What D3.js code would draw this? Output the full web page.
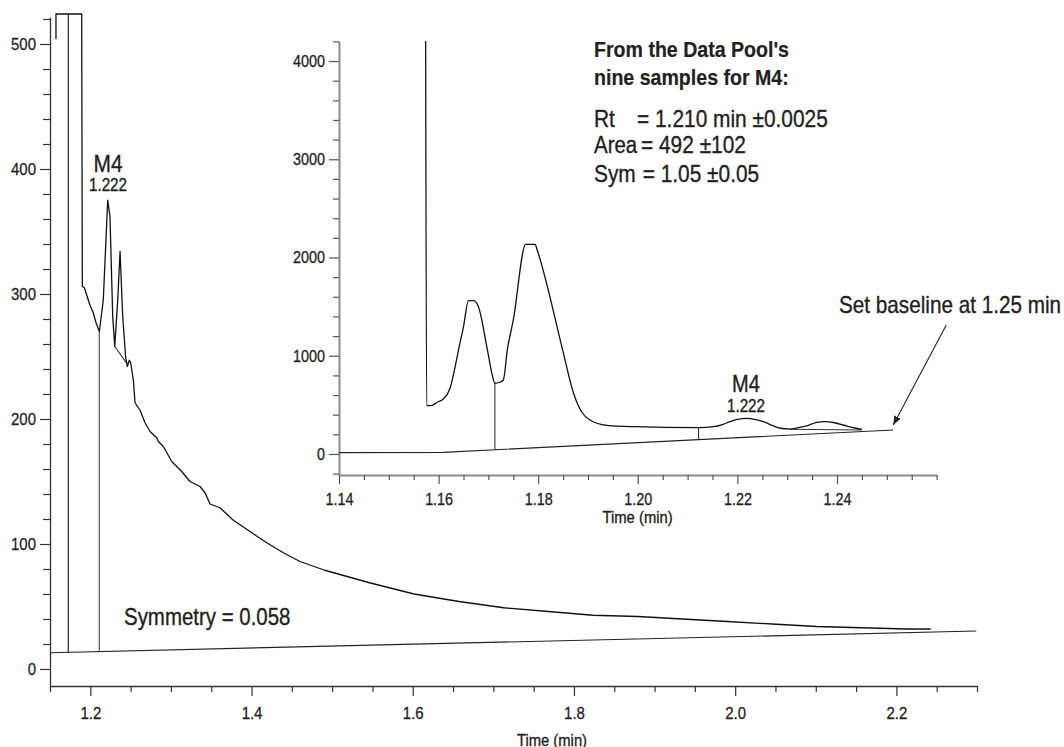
<!DOCTYPE html>
<html><head><meta charset="utf-8">
<script src="https://cdn.jsdelivr.net/npm/d3@7"></script>
<style>
html,body{margin:0;padding:0;background:#fff;}
svg{display:block;}
text{font-family:"Liberation Sans", Arial, sans-serif; fill:#231f20;}
</style></head><body>
<svg id="c" width="1064" height="747"></svg>
<script>
// ---------- DATA ----------
// Main chromatogram (time in min, signal)
const mainTime = [1.1574, 1.1574, 1.1893, 1.1901, 1.1926, 1.1996, 1.2037, 1.2071, 1.2112, 1.2161, 1.2216, 1.2244, 1.2278, 1.2303, 1.2340, 1.2369, 1.2402, 1.2439, 1.2459, 1.2484, 1.2501, 1.2534, 1.2555, 1.2617, 1.2679, 1.2741, 1.2824, 1.2844, 1.2906, 1.3010, 1.3134, 1.3237, 1.3361, 1.3423, 1.3485, 1.3609, 1.3774, 1.3981, 1.4189, 1.4395, 1.4602, 1.4908, 1.5463, 1.6016, 1.6574, 1.7128, 1.7682, 1.8237, 1.8793, 1.9347, 1.9900, 2.0458, 2.1012, 2.1567, 2.2120, 2.2427];
const mainSignal = [504, 524, 524, 306, 305, 291, 285, 277, 270, 295, 375, 362, 282, 258, 295, 334, 282, 249, 242, 247, 245, 231, 213, 207, 197, 190, 185, 182, 178, 166, 158, 150, 146, 141, 132, 129, 119, 110, 101, 93, 86, 79, 69, 60, 54, 49, 46, 43, 42, 40, 38, 36, 34, 33, 32, 32];
const mainBaseTime = [1.15, 2.299];
const mainBaseSignal = [13, 30.4];
const mainDropTime = [1.1727, 1.2112];
const mainDropTop = [524, 270];
const mainSegTime = [1.2303, 1.2459];
const mainSegSignal = [258, 244];
const mainXMajor = [1.2, 1.4, 1.6, 1.8, 2.0, 2.2];
const mainYMajor = [0, 100, 200, 300, 400, 500];

// Inset chromatogram
const insetTime = [1.1574, 1.1576, 1.1584, 1.1599, 1.1609, 1.1623, 1.1636, 1.1640, 1.1650, 1.1660, 1.1671, 1.1680, 1.1698, 1.1707, 1.1713, 1.1723, 1.1730, 1.1738, 1.1750, 1.1775, 1.1794, 1.1798, 1.1850, 1.1870, 1.1887, 1.1904, 1.1938, 1.1991, 1.2122, 1.2152, 1.2170, 1.2185, 1.2200, 1.2219, 1.2235, 1.2252, 1.2270, 1.2286, 1.2306, 1.2320, 1.2339, 1.2357, 1.2376, 1.2395, 1.2413, 1.2430, 1.2450];
const insetSignal = [4204, 492, 492, 532, 557, 669, 957, 1059, 1296, 1561, 1561, 1499, 1059, 821, 720, 730, 753, 1059, 1364, 2134, 2134, 2076, 1040, 634, 430, 346, 292, 278, 268, 278, 300, 329, 352, 363, 352, 329, 292, 262, 254, 265, 285, 318, 329, 318, 295, 270, 251];
const insetBaseTime = [1.14, 1.161, 1.2513];
const insetBaseSignal = [13, 17, 244];
const insetDropTime = [1.1713, 1.2122];
const insetDropTop = [720, 268];
const insetSegTime = [1.2306, 1.2450];
const insetSegSignal = [251, 244];
const insetXMajor = [1.14, 1.16, 1.18, 1.20, 1.22, 1.24];
const insetYMajor = [0, 1000, 2000, 3000, 4000];

// ---------- DRAW ----------
const svg = d3.select("#c");
const COND = 0.87;
const INK = "#231f20";
function condense(sel, f) {
  sel.each(function () {
    const L = this.getComputedTextLength();
    if (L > 0) d3.select(this).attr("textLength", L * f).attr("lengthAdjust", "spacingAndGlyphs");
  });
}
function label(x, y, str, size, anchor, weight) {
  const t = svg.append("text").attr("x", x).attr("y", y).text(str)
    .attr("font-size", size).attr("text-anchor", anchor || "start")
    .attr("font-weight", weight || "normal")
    .attr("stroke", INK).attr("stroke-width", weight === "bold" ? 0.2 : 0.35);
  condense(t, COND);
  return t;
}
const near = (v, arr) => arr.some(a => Math.abs(a - v) < 1e-6);

// Main scales
const xM = d3.scaleLinear().domain([1.15, 2.3]).range([50, 977]);
const yM = d3.scaleLinear().domain([-13.6, 521.6]).range([686, 17]);
// Inset scales
const xI = d3.scaleLinear().domain([1.14, 1.26]).range([339, 936.6]);
const yI = d3.scaleLinear().domain([-214, 4204]).range([475, 41]);

function styleAxis(g, domainColor, domainWidth, tickColor, fontSize) {
  g.select(".domain").attr("stroke", domainColor).attr("stroke-width", domainWidth);
  g.selectAll(".tick line").attr("stroke", tickColor).attr("stroke-width", 1.2);
  g.selectAll(".tick text").attr("font-family", "Liberation Sans, Arial, sans-serif")
    .attr("font-size", fontSize).attr("fill", INK).attr("stroke", INK).attr("stroke-width", 0.3);
  g.attr("font-family", null).attr("font-size", null);
  condense(g.selectAll(".tick text"), COND);
}

// Main x axis
const mxTicks = d3.range(0, 24).map(i => +(1.15 + i * 0.05).toFixed(2));
const gmx = svg.append("g").attr("transform", `translate(0,${yM.range()[0]})`)
  .call(d3.axisBottom(xM).tickValues(mxTicks).tickSizeInner(10).tickSizeOuter(0).tickPadding(10.4)
    .tickFormat(d => near(d, mainXMajor) ? d3.format(".1f")(d) : ""));
gmx.selectAll(".tick").filter(d => !near(d, mainXMajor)).select("line").attr("y2", 6);
styleAxis(gmx, "#333", 1.3, "#333", 17.2);

// Main y axis
const myTicks = d3.range(0, 521, 20);
const gmy = svg.append("g").attr("transform", `translate(${xM.range()[0]},0)`)
  .call(d3.axisLeft(yM).tickValues(myTicks).tickSizeInner(10).tickSizeOuter(0).tickPadding(4)
    .tickFormat(d => near(d, mainYMajor) ? d : ""));
gmy.selectAll(".tick").filter(d => !near(d, mainYMajor)).select("line").attr("x2", -7);
styleAxis(gmy, "#333", 1.3, "#333", 17.2);

// Main baseline
const baseM = d3.scaleLinear().domain(mainBaseTime).range(mainBaseSignal);
svg.append("path").datum(mainBaseTime.map((t, i) => [t, mainBaseSignal[i]]))
  .attr("d", d3.line().x(d => xM(d[0])).y(d => yM(d[1])))
  .attr("fill", "none").attr("stroke", "#222").attr("stroke-width", 1.2);
// Main drop lines
mainDropTime.forEach((t, i) => {
  svg.append("line").attr("x1", xM(t)).attr("x2", xM(t))
    .attr("y1", yM(mainDropTop[i])).attr("y2", yM(baseM(t)))
    .attr("stroke", i === 0 ? "#222" : "#555").attr("stroke-width", 1.2);
});
// Main peak segment
svg.append("line").attr("x1", xM(mainSegTime[0])).attr("y1", yM(mainSegSignal[0]))
  .attr("x2", xM(mainSegTime[1])).attr("y2", yM(mainSegSignal[1]))
  .attr("stroke", "#222").attr("stroke-width", 1.1);
// Main trace
svg.append("path").datum(mainTime.map((t, i) => [t, mainSignal[i]]))
  .attr("d", d3.line().x(d => xM(d[0])).y(d => yM(d[1])))
  .attr("fill", "none").attr("stroke", "#111").attr("stroke-width", 1.3).attr("stroke-linejoin", "round");

// Inset x axis
const ixTicks = d3.range(0, 25).map(i => +(1.14 + i * 0.005).toFixed(3));
const gix = svg.append("g").attr("transform", `translate(0,${yI.range()[0]})`)
  .call(d3.axisBottom(xI).tickValues(ixTicks).tickSizeInner(9).tickSizeOuter(0).tickPadding(9.3)
    .tickFormat(d => near(d, insetXMajor) ? d3.format(".2f")(d) : ""));
gix.selectAll(".tick").filter(d => !near(d, insetXMajor)).select("line").attr("y2", 5);
styleAxis(gix, "#8c8c8c", 2, "#555", 16.5);

// Inset y axis
const iyTicks = d3.range(-200, 4201, 200);
const giy = svg.append("g").attr("transform", `translate(${xI.range()[0]},0)`)
  .call(d3.axisLeft(yI).tickValues(iyTicks).tickSizeInner(10).tickSizeOuter(0).tickPadding(4)
    .tickFormat(d => near(d, insetYMajor) ? d : ""));
giy.selectAll(".tick").filter(d => !near(d, insetYMajor)).select("line").attr("x2", -6);
styleAxis(giy, "#8c8c8c", 2, "#555", 16.5);

// Inset baseline
const baseI = d3.scaleLinear().domain(insetBaseTime).range(insetBaseSignal);
svg.append("path").datum(insetBaseTime.map((t, i) => [t, insetBaseSignal[i]]))
  .attr("d", d3.line().x(d => xI(d[0])).y(d => yI(d[1])))
  .attr("fill", "none").attr("stroke", "#222").attr("stroke-width", 1.2);
insetDropTime.forEach((t, i) => {
  svg.append("line").attr("x1", xI(t)).attr("x2", xI(t))
    .attr("y1", yI(insetDropTop[i])).attr("y2", yI(baseI(t)))
    .attr("stroke", "#333").attr("stroke-width", 1.1);
});
svg.append("line").attr("x1", xI(insetSegTime[0])).attr("y1", yI(insetSegSignal[0]))
  .attr("x2", xI(insetSegTime[1])).attr("y2", yI(insetSegSignal[1]))
  .attr("stroke", "#333").attr("stroke-width", 1.1);
// Inset trace
svg.append("path").datum(insetTime.map((t, i) => [t, insetSignal[i]]))
  .attr("d", d3.line().x(d => xI(d[0])).y(d => yI(d[1])).curve(d3.curveMonotoneX))
  .attr("fill", "none").attr("stroke", "#111").attr("stroke-width", 1.3).attr("stroke-linejoin", "round");

// Arrow
svg.append("defs").append("marker").attr("id", "ah").attr("viewBox", "0 0 10 10")
  .attr("refX", 10).attr("refY", 5).attr("markerWidth", 9).attr("markerHeight", 9)
  .attr("markerUnits", "userSpaceOnUse").attr("orient", "auto")
  .append("path").attr("d", "M0,1 L10,5 L0,9 Z").attr("fill", "#222");
const tipX = xI(1.2513), tipY = yI(244) - 5;
svg.append("line").attr("x1", tipX + 53).attr("y1", tipY - 100).attr("x2", tipX).attr("y2", tipY)
  .attr("stroke", "#222").attr("stroke-width", 1.1).attr("marker-end", "url(#ah)");

// Texts
label(108, 172, "M4", 24, "middle");
label(108, 191, "1.222", 17.5, "middle");
label(124, 625, "Symmetry = 0.058", 23.5, "start");
label(552, 746, "Time (min)", 17, "middle");
label(637.6, 523, "Time (min)", 17, "middle");
label(746, 391.7, "M4", 23, "middle");
label(746, 411.7, "1.222", 17.5, "middle");
label(594, 57.3, "From the Data Pool's", 22.5, "start", "bold");
label(594, 85, "nine samples for M4:", 22.5, "start", "bold");
label(594, 126.7, "Rt", 24, "start");
label(637, 126.7, "= 1.210 min \u00B10.0025", 24, "start");
label(594, 153.3, "Area", 23.5, "start");
label(641, 153.3, "= 492 \u00B1102", 24, "start");
label(594, 181.7, "Sym", 24, "start");
label(642.7, 181.7, "= 1.05 \u00B10.05", 24, "start");
label(839, 313.3, "Set baseline at 1.25 min", 23.8, "start");
</script>
</body></html>
